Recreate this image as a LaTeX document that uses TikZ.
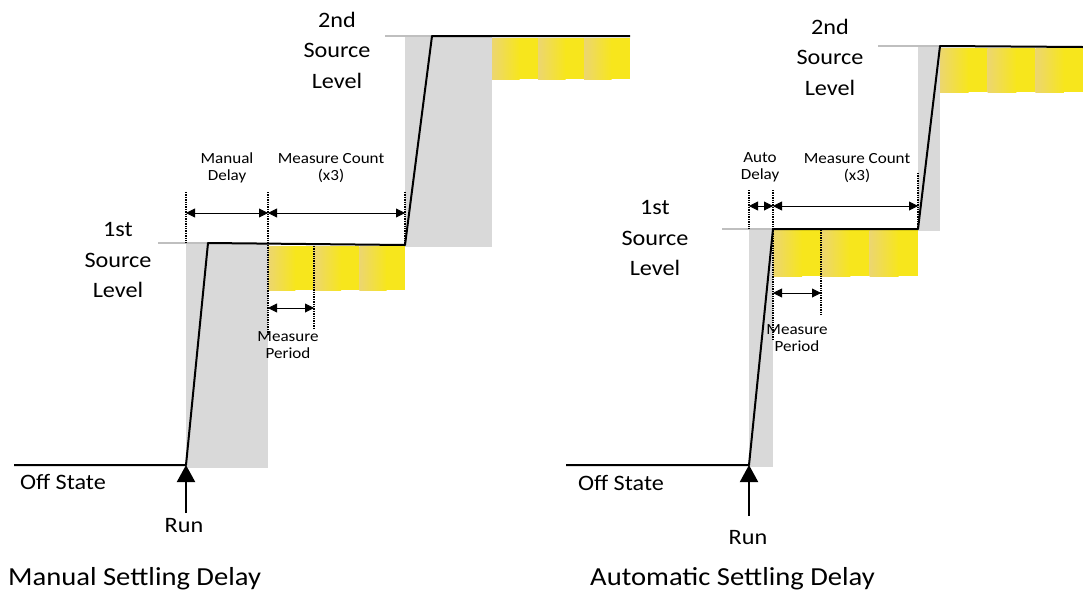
\documentclass[tikz,border=0pt]{standalone}
\usepackage{fontspec}
\setmainfont{Carlito}[FakeStretch=1.1]
\usetikzlibrary{arrows.meta}
\definecolor{panelgray}{RGB}{217,217,217}
\definecolor{levelgray}{RGB}{191,191,191}
\definecolor{yellowlo}{RGB}{236,214,112}
\definecolor{yellowhi}{RGB}{247,230,28}

\begin{document}
\begin{tikzpicture}[x=1pt, y=-1pt,
        every node/.style={font=\fontsize{22}{30.5}\selectfont, inner sep=0pt},
        small/.style={font=\fontsize{15.5}{17}\selectfont, align=center},
        big/.style={align=center},
        title/.style={font=\fontsize{26}{30}\selectfont, anchor=west},
        signal/.style={line width=2pt, line join=round},
        level/.style={levelgray, line width=2pt},
        guide/.style={densely dotted, line width=1.4pt},
        span/.style={{Triangle[length=9pt,width=9pt]}-{Triangle[length=9pt,width=9pt]}, line width=0.9pt},
        runarrow/.style={-{Triangle[length=17pt,width=18pt]}, line width=2pt}
    ]
    \useasboundingbox (0,0) rectangle (1083,595);

    % settling windows
    \fill[panelgray] (186,243) rectangle (268,468);
    \fill[panelgray] (405,36) rectangle (492,247);
    \fill[panelgray] (749,229) rectangle (773,467);
    \fill[panelgray] (918,46) rectangle (940,231);

    % measurement periods
    \foreach \xa/\ya/\w/\h in {268/246/45.67/44, 492/38/46/41, 773/230/48.33/46, 940/48/47.67/44} {
        \foreach \k in {0,1,2} {
            \shade[left color=yellowlo, right color=yellowhi] (\xa+\k*\w,\ya) rectangle ++(0.6*\w,\h);
            \fill[yellowhi] (\xa+\k*\w+0.6*\w-0.3,\ya) rectangle ++(0.4*\w+0.3,\h);
        }
    }

    % source levels
    \draw[level] (158,243) -- (208,243);
    \draw[level] (385,36) -- (432,36);
    \draw[level] (722,229) -- (773,229);
    \draw[level] (878,46) -- (940,46);

    % output
    \coordinate (mOn) at (186,465);
    \coordinate (mUp) at (208,243);
    \coordinate (mStep) at (405,245);
    \coordinate (mTop) at (432,36);
    \draw[signal] (14,465) -- (mOn) -- (mUp) -- (mStep) -- (mTop) -- (630,36);
    \coordinate (aOn) at (749,465);
    \coordinate (aUp) at (773,229);
    \coordinate (aStep) at (918,229);
    \coordinate (aTop) at (940,46);
    \draw[signal] (566,465) -- (aOn) -- (aUp) -- (aStep) -- (aTop) -- (1083,47);

    % markers
    \draw[guide] (186,192) -- (186,243);
    \draw[guide] (268,192) -- (268,335);
    \draw[guide] (314,246) -- (314,328);
    \draw[guide] (405,192) -- (405,243);
    \draw[guide] (749,190) -- (749,229);
    \draw[guide] (773,190) -- (773,340);
    \draw[guide] (821,230) -- (821,315);
    \draw[guide] (918,173) -- (918,229);

    \draw[span] (186,213) -- (268,213);
    \draw[span] (268,213) -- (405,213);
    \draw[span] (268,308) -- (314,308);
    \draw[span] (749,206) -- (773,206);
    \draw[span] (773,206) -- (918,206);
    \draw[span] (773,293) -- (821,293);

    % labels
    \node[small] (mDelayLbl) at (227,168) {Manual\\Delay};
    \node[small] (mCountLbl) at (331,168) {Measure Count\\(x3)};
    \node[small] (mPeriodLbl) at (288,345) {Measure\\Period};
    \node[big] (mLevelA) at (118,260) {1st\\Source\\Level};
    \node[big] (mLevelB) at (337,50) {2nd\\Source\\Level};
    \node (mOff) at (63,482) {Off State};
    \node (mRun) at (184,526) {Run};
    \draw[runarrow] (186,513) -- (mOn);
    \node[title] (mTitle) at (8,579) {Manual Settling Delay};

    \node[small] (aDelayLbl) at (760,167) {Auto\\Delay};
    \node[small] (aCountLbl) at (857,168) {Measure Count\\(x3)};
    \node[small] (aPeriodLbl) at (797,338) {Measure\\Period};
    \node[big] (aLevelA) at (655,238) {1st\\Source\\Level};
    \node[big] (aLevelB) at (830,57) {2nd\\Source\\Level};
    \node (aOff) at (621,483) {Off State};
    \node (aRun) at (748,538) {Run};
    \draw[runarrow] (749,516) -- (aOn);
    \node[title] (aTitle) at (590,579) {Automatic Settling Delay};
\end{tikzpicture}
\end{document}
